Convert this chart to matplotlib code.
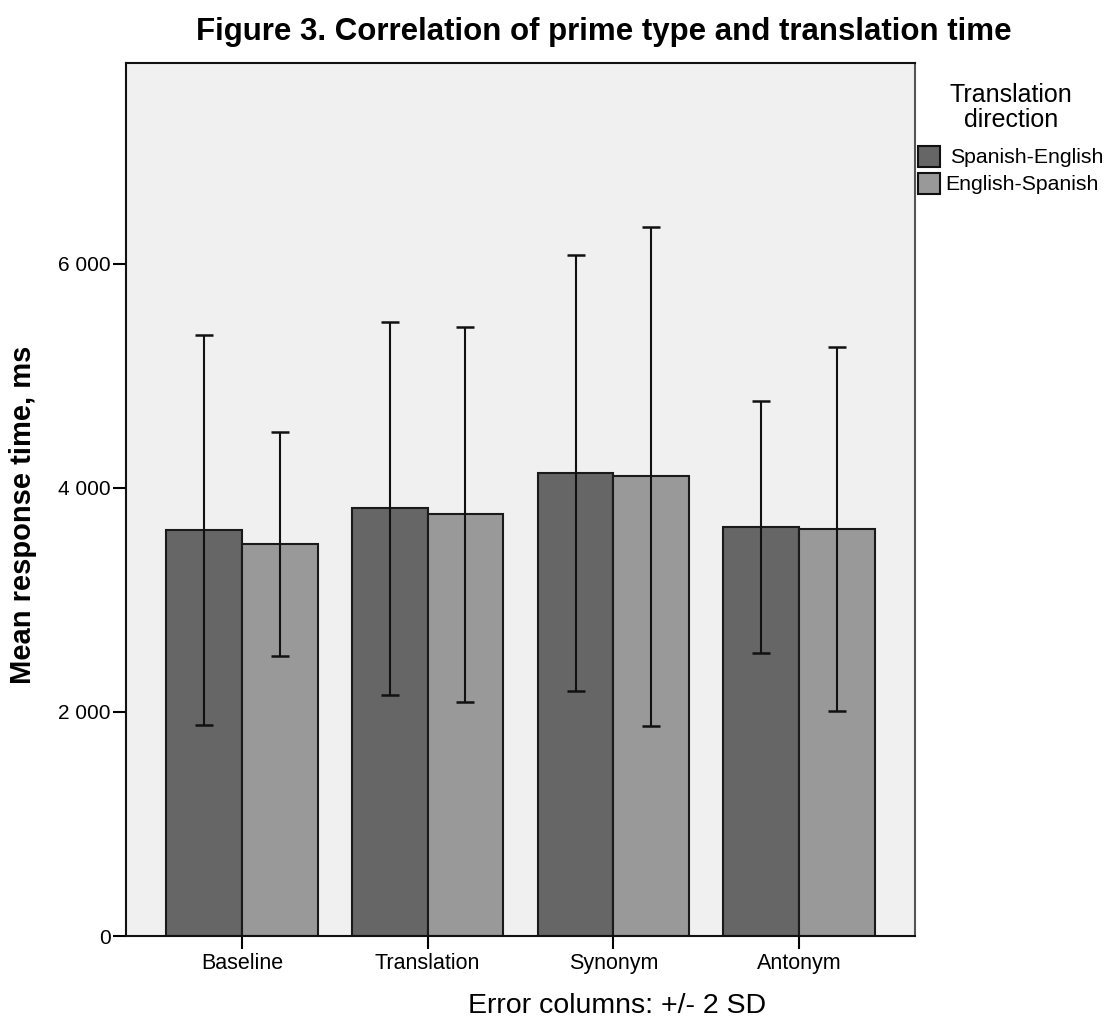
import matplotlib
matplotlib.use("Agg")
import matplotlib.pyplot as plt
import numpy as np
from matplotlib.patches import Rectangle

plt.rcParams['font.family'] = ['Liberation Sans', 'DejaVu Sans']

categories = ["Baseline", "Translation", "Synonym", "Antonym"]
series = ["Spanish-English", "English-Spanish"]
means_sp_en = [3625, 3815, 4133, 3650]
means_en_sp = [3495, 3762, 4103, 3632]
err_sp_en = [1740, 1666, 1948, 1124]   # 2 SD
err_en_sp = [1000, 1674, 2228, 1626]
colors = ["#666666", "#999999"]
yticks = [0, 2000, 4000, 6000]
ytick_labels = ["0", "2 000", "4 000", "6 000"]

W, H = 1109, 1017
fig = plt.figure(figsize=(W/100, H/100), dpi=100)
ax = fig.add_axes([126/W, 1-936/H, (915-126)/W, (936-63)/H])
ax.set_facecolor("#f0f0f0")

x = np.arange(len(categories))
w = 0.407
for i, (m, e) in enumerate([(means_sp_en, err_sp_en), (means_en_sp, err_en_sp)]):
    pos = x + (i - 0.5) * w
    ax.bar(pos, m, width=w, color=colors[i], edgecolor="#1a1a1a", linewidth=1.5, zorder=2)
    ax.errorbar(pos, m, yerr=e, fmt="none", ecolor="#111111", elinewidth=1.5,
                capsize=6.8, capthick=1.8, zorder=3)

ax.set_xlim(-0.625, 3.625)
ax.set_ylim(0, 7790)
ax.set_yticks(yticks)
ax.set_yticklabels(ytick_labels, fontsize=15)
ax.set_xticks(x)
ax.set_xticklabels(categories, fontsize=15.5)
ax.tick_params(axis="y", length=9.5, width=1.5, pad=1.5)
ax.tick_params(axis="x", length=9.5, width=1.5, pad=2.5)
for s in ax.spines.values():
    s.set_linewidth(1.5)
    s.set_color("#111111")
ax.spines["right"].set_color("#555555")

fig.text(23/W, 1-515/H, "Mean response time, ms", rotation=90, ha="center", va="center",
         fontsize=21, fontweight="bold")
fig.text(468/W, 1-1013/H, "Error columns: +/- 2 SD", ha="left", va="baseline", fontsize=20.5)
fig.text(604/W, 1-40/H, "Figure 3. Correlation of prime type and translation time",
         ha="center", va="baseline", fontsize=22.5, fontweight="bold")

# legend
fig.text(1011/W, 1-102/H, "Translation", ha="center", va="baseline", fontsize=18)
fig.text(1011/W, 1-127/H, "direction", ha="center", va="baseline", fontsize=18)
legend_box_y = [146, 173]
legend_txt_x = [950, 945]
for i in range(2):
    fig.patches.append(Rectangle((918/W, 1-(legend_box_y[i]+21)/H), 22/W, 21/H,
                                 transform=fig.transFigure, facecolor=colors[i],
                                 edgecolor="#111111", linewidth=1.5))
    fig.text(legend_txt_x[i]/W, 1-(legend_box_y[i]+17)/H, series[i], ha="left",
             va="baseline", fontsize=15.3)

fig.savefig("out.png", dpi=100, facecolor="white")
